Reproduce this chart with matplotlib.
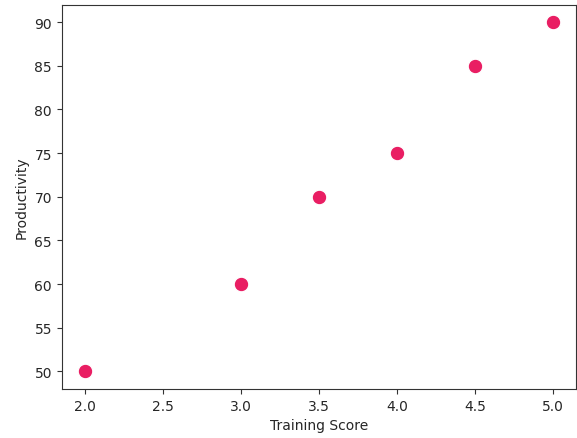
import matplotlib
matplotlib.use("Agg")
import matplotlib.pyplot as plt
import seaborn as sns

training_score = [2.0, 3.0, 3.5, 4.0, 4.5, 5.0]
productivity = [50, 60, 70, 75, 85, 90]

plt.rcParams.update({
    "text.color": "#262626",
    "axes.labelcolor": "#262626",
    "xtick.color": "#333333",
    "ytick.color": "#333333",
    "xtick.labelcolor": "#262626",
    "ytick.labelcolor": "#262626",
    "axes.edgecolor": "#333333",
})

fig, ax = plt.subplots(figsize=(5.77, 4.39), dpi=100)
sns.scatterplot(x=training_score, y=productivity, s=110, color="#E91E63", ax=ax)
ax.set_xlabel("Training Score")
ax.set_ylabel("Productivity")
fig.subplots_adjust(left=0.107, right=0.999, top=0.987, bottom=0.112)
fig.savefig("out.png", dpi=100)
